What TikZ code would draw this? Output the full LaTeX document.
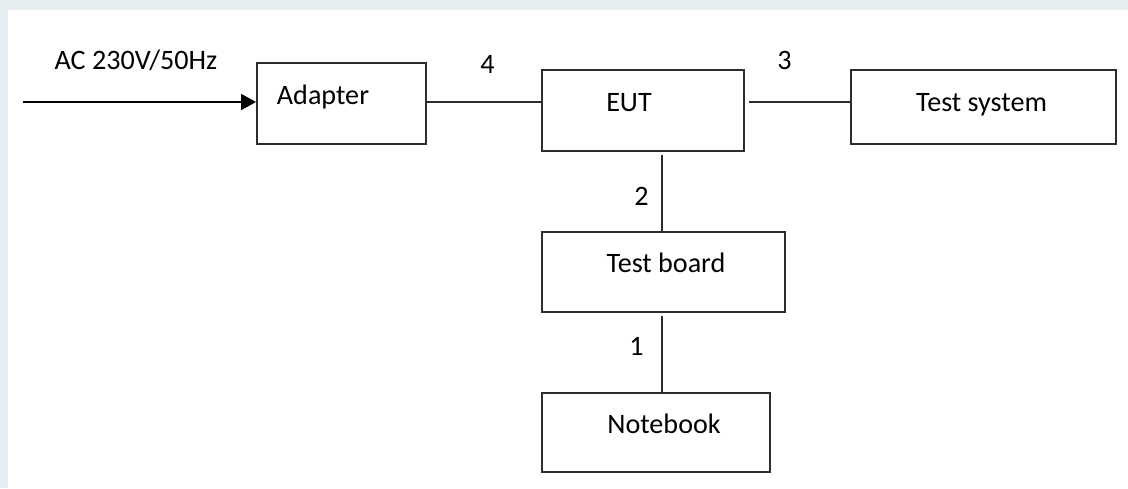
\documentclass[tikz,border=0pt]{standalone}
\usepackage{fontspec}
\setmainfont{Carlito}
\usepackage{tikz}
\usetikzlibrary{arrows.meta,calc}
\definecolor{pagegray}{RGB}{231,238,241}
\definecolor{linegray}{RGB}{45,45,45}

\begin{document}
\begin{tikzpicture}[x=0.025cm, y=-0.025cm,
    box/.style={draw=linegray, line width=1.3pt, rectangle, inner sep=0pt},
    txt/.style={font=\fontsize{20}{24}\selectfont, inner sep=0pt, anchor=base},
    wire/.style={draw=linegray, line width=1.3pt}]
    \fill[pagegray] (0,0) rectangle (1128,488);
    \fill[white] (8,10) rectangle (1128,488);
    \useasboundingbox (0,0) rectangle (1128,488);
    % boxes
    \node[box, minimum width=4.225cm, minimum height=2.025cm] (adapter) at (341.5,103.5) {};
    \node[box, minimum width=5.05cm, minimum height=2.025cm] (eut) at (643,110.5) {};
    \node[box, minimum width=6.625cm, minimum height=1.85cm] (system) at (983.5,107) {};
    \node[box, minimum width=6.075cm, minimum height=2cm] (board) at (663.5,272) {};
    \node[box, minimum width=5.7cm, minimum height=1.975cm] (notebook) at (656,432.5) {};
    % box texts
    \node[txt] (adaptertxt) at (323,104) {Adapter};
    \node[txt] (euttxt) at (629,111) {EUT};
    \node[txt] (systemtxt) at (981.5,111) {Test system};
    \node[txt] (boardtxt) at (666,272) {Test board};
    \node[txt] (notebooktxt) at (664,433) {Notebook};
    % cable numbers
    \node[txt] (acsupply) at (136,69) {AC 230V/50Hz};
    \node[txt] (cablefour) at (487.5,73) {4};
    \node[txt] (cablethree) at (784.5,69) {3};
    \node[txt] (cabletwo) at (641.5,205) {2};
    \node[txt] (cableone) at (636.5,355) {1};
    % connectors
    \coordinate (acin) at (23,102);
    \draw[wire, draw=black, -{Triangle[length=0.375cm, width=0.4cm]}] (acin) -- (acin -| adapter.west);
    \draw[wire] (adapter.east |- acin) -- (acin -| eut.west);
    \draw[wire] ($(eut.east |- acin)+(4,0)$) -- (acin -| system.west);
    \draw[wire] ($(board.north |- eut.south)+(-1.5,3)$) -- ($(board.north)+(-1.5,0)$);
    \draw[wire] ($(board.south)+(-1.5,3)$) -- ($(board.south |- notebook.north)+(-1.5,0)$);
\end{tikzpicture}
\end{document}
